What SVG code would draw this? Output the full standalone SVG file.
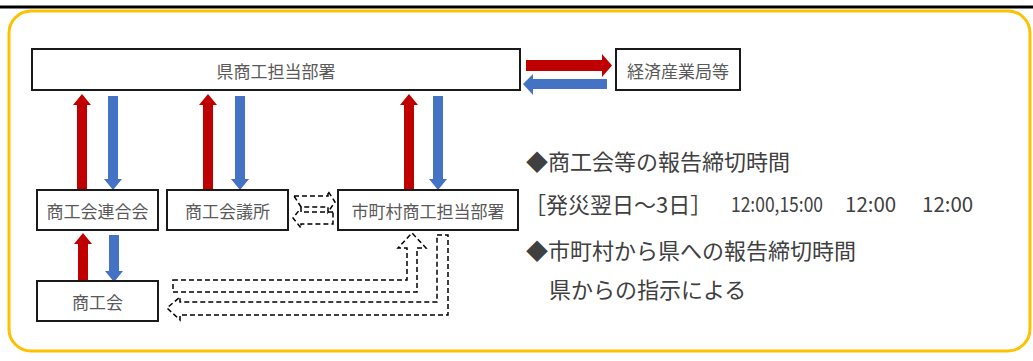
<svg xmlns="http://www.w3.org/2000/svg" width="1033" height="361" viewBox="0 0 1033 361">
<style>
.box{fill:#fff;stroke:#1a1a1a;stroke-width:2}
.lbl{font-family:"Noto Sans CJK JP","Noto Sans",sans-serif;font-size:17px;fill:#595959;text-anchor:middle;dominant-baseline:central}
.note{font-family:"Noto Sans CJK JP","Noto Sans",sans-serif;font-size:22px;fill:#404040;dominant-baseline:central}
.num{font-family:"Noto Sans CJK JP","Noto Sans",sans-serif;font-size:20.5px;fill:#404040;dominant-baseline:central}
.red{fill:#C00000}
.blue{fill:#4472C4}
.dash{fill:none;stroke:#000;stroke-width:1.5;stroke-dasharray:5 3;stroke-linejoin:miter}
</style>
<rect width="1033" height="361" fill="#fff"/>
<line x1="0" y1="7" x2="1033" y2="7" stroke="#000" stroke-width="3"/>
<rect x="9" y="11" width="1021" height="340" rx="22" ry="22" fill="#fff" stroke="#FFC000" stroke-width="3"/>

<g id="connectors">
  <polygon class="red" points="526,60 602,60 602,54 612,65.5 602,77 602,71 526,71"/>
  <polygon class="blue" points="607,79 533,79 533,74 523,84 533,95 533,89 607,89"/>
  <polygon class="red" points="77,190 77,105 73,105 82,94 91,105 87,105 87,190"/>
  <polygon class="blue" points="108,96 118,96 118,179 122,179 113,190 104,179 108,179"/>
  <polygon class="red" points="203,190 203,105 199,105 208,94 217,105 213,105 213,190"/>
  <polygon class="blue" points="235,96 245,96 245,179 249,179 240,190 231,179 235,179"/>
  <polygon class="red" points="404,190 404,105 400,105 409,94 418,105 414,105 414,190"/>
  <polygon class="blue" points="433,96 443,96 443,179 447,179 438,190 429,179 433,179"/>
  <polygon class="red" points="78,281 78,244 74,244 83,233 92,244 88,244 88,281"/>
  <polygon class="blue" points="109,235 119,235 119,271 123,271 114,282 105,271 109,271"/>
  <polygon class="dash" points="294,196 328,196 328,191 335,202 328,212 328,207 301,207"/>
  <polygon class="dash" points="333,212 301,212 301,208 293,218 301,228 301,224 333,224"/>
  <polygon class="dash" points="173,280 407,280 407,248 398,248 412,233 426,248 417,248 417,292 173,292"/>
  <polygon class="dash" points="437,235 448,235 448,315 180,315 180,320 167,308 180,297 180,302 437,302"/>
</g>

<g id="node-pref">
  <rect class="box" x="32" y="49" width="488" height="41"/>
  <text class="lbl" x="276" y="70">県商工担当部署</text>
</g>
<g id="node-meti">
  <rect class="box" x="616" y="49" width="124" height="41"/>
  <text class="lbl" x="678" y="70">経済産業局等</text>
</g>
<g id="node-rengokai">
  <rect class="box" x="37" y="190" width="121" height="40"/>
  <text class="lbl" x="97.5" y="210">商工会連合会</text>
</g>
<g id="node-kaigisho">
  <rect class="box" x="167" y="190" width="121" height="40"/>
  <text class="lbl" x="227.5" y="210">商工会議所</text>
</g>
<g id="node-city">
  <rect class="box" x="338" y="190" width="180" height="40"/>
  <text class="lbl" x="428" y="210">市町村商工担当部署</text>
</g>
<g id="node-shokokai">
  <rect class="box" x="37" y="281" width="121" height="40"/>
  <text class="lbl" x="97.5" y="301">商工会</text>
</g>

<g id="notes">
  <text class="note" x="526" y="160">◆商工会等の報告締切時間</text>
  <text class="note" x="524" y="203">［発災翌日～3日］</text>
  <text class="num" x="731" y="203" textLength="92" lengthAdjust="spacingAndGlyphs">12:00,15:00</text>
  <text class="num" x="845" y="203">12:00</text>
  <text class="num" x="922" y="203">12:00</text>
  <text class="note" x="526" y="249">◆市町村から県への報告締切時間</text>
  <text class="note" x="549" y="288">県からの指示による</text>
</g>
</svg>
